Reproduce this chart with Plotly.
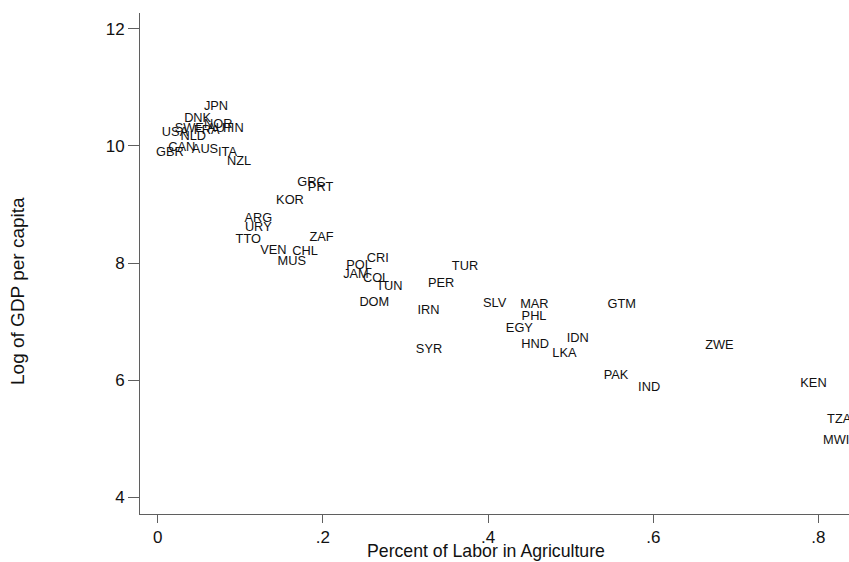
import plotly.graph_objects as go

countries = ["JPN","DNK","NOR","AUT","FIN","SWE","FRA","USA","NLD","CAN","GBR","AUS","ITA","NZL",
             "GRC","PRT","KOR","ARG","URY","TTO","ZAF","VEN","CHL","MUS","CRI","POL","JAM","COL",
             "TUN","DOM","TUR","PER","IRN","SYR","SLV","MAR","PHL","EGY","HND","IDN","LKA","GTM",
             "PAK","IND","ZWE","KEN","TZA","MWI"]
agri_share = [0.0706,0.0484,0.0734,0.0754,0.0916,0.0383,0.0593,0.0210,0.0431,0.0291,0.0149,0.0573,0.0845,0.0985,
              0.1863,0.1972,0.1602,0.1218,0.1218,0.1097,0.1984,0.1400,0.1784,0.1623,0.2664,0.2438,0.2401,0.2644,
              0.2805,0.2623,0.3721,0.3431,0.3279,0.3285,0.4079,0.4561,0.4557,0.4379,0.4569,0.5086,0.4924,0.5619,
              0.5550,0.5950,0.6801,0.7940,0.8251,0.8214]
log_gdp = [10.66,10.46,10.364,10.29,10.29,10.29,10.25,10.22,10.16,9.966,9.880,9.937,9.877,9.732,
           9.368,9.282,9.056,8.749,8.609,8.398,8.438,8.202,8.185,8.022,8.068,7.954,7.800,7.732,
           7.590,7.313,7.932,7.638,7.193,6.518,7.304,7.287,7.077,6.872,6.603,6.701,6.450,7.287,
           6.082,5.868,6.586,5.945,5.321,4.962]

x_ticks = [0, 0.2, 0.4, 0.6, 0.8]
x_ticktext = ["0", ".2", ".4", ".6", ".8"]
y_ticks = [4, 6, 8, 10, 12]

FONT = "Liberation Sans, Arial, sans-serif"
AX = "#5f5f5f"

fig = go.Figure(go.Scatter(
    x=agri_share, y=log_gdp, text=countries, mode="text",
    textposition="middle center", cliponaxis=False,
    textfont=dict(family=FONT, size=12.8, color="#111111"),
    hoverinfo="skip"))

fig.update_layout(
    width=849, height=562,
    margin=dict(l=140, r=0, t=13, b=48),
    paper_bgcolor="white", plot_bgcolor="white",
    showlegend=False,
    font=dict(family=FONT, color="#111111"),
    xaxis=dict(range=[-0.0214, 0.837], tickvals=x_ticks, ticktext=x_ticktext,
               ticks="outside", ticklen=8, tickcolor=AX, tickwidth=1,
               showline=True, linecolor=AX, linewidth=1, showgrid=False, zeroline=False,
               tickfont=dict(size=17, family=FONT, color="#111111")),
    yaxis=dict(range=[3.715, 12.27], tickvals=y_ticks,
               ticks="outside", ticklen=11, tickcolor=AX, tickwidth=1,
               showline=True, linecolor=AX, linewidth=1, showgrid=False, zeroline=False,
               tickfont=dict(size=17, family=FONT, color="#111111")),
    annotations=[
        dict(text="Percent of Labor in Agriculture", xref="paper", yref="paper",
             x=(486 - 140) / 709, y=-(551 - 514) / 501, xanchor="center", yanchor="middle",
             showarrow=False, font=dict(size=17.7, family=FONT, color="#111111")),
        dict(text="Log of GDP per capita", xref="paper", yref="paper",
             x=-(140 - 17) / 709, y=(514 - 291) / 501, xanchor="center", yanchor="middle",
             textangle=-90, showarrow=False, font=dict(size=19, family=FONT, color="#111111")),
    ],
)

fig.write_html("out.html", config={"displayModeBar": False},
               post_script="document.body.style.margin='0';document.body.style.overflow='hidden';")
